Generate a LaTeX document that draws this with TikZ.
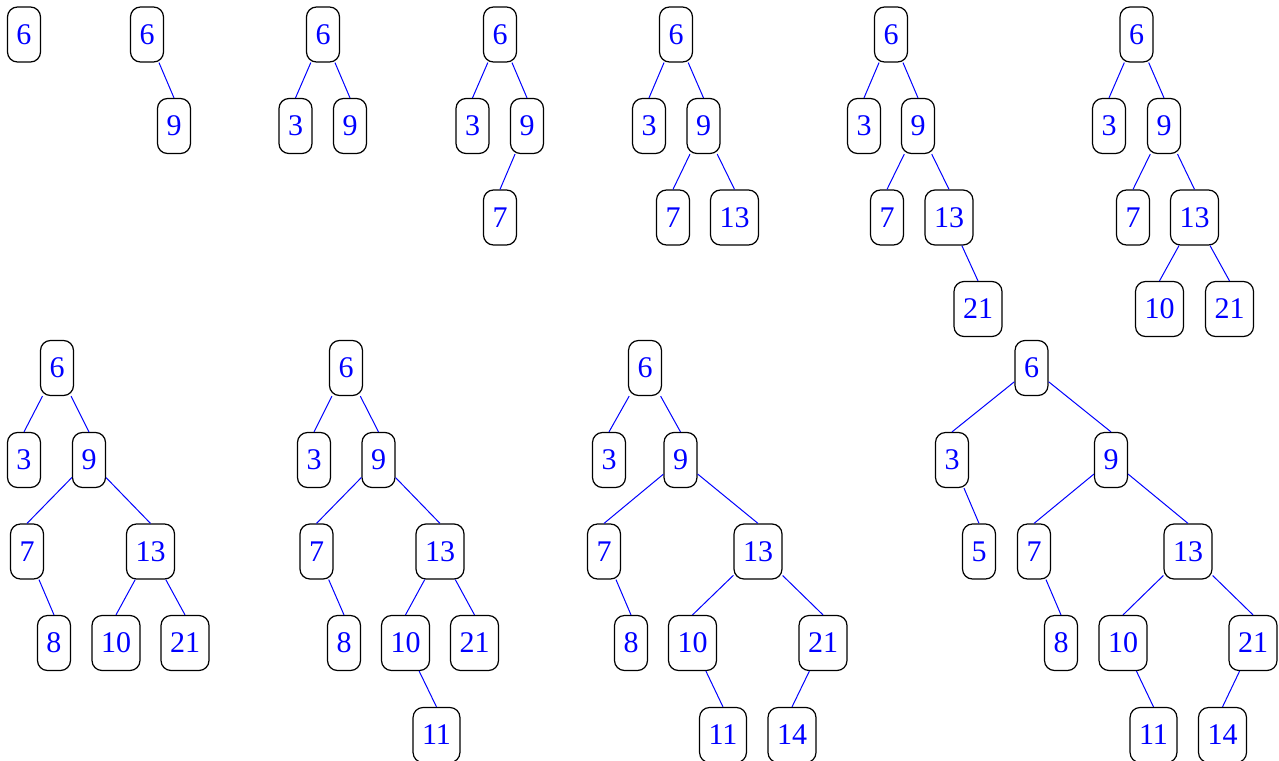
\documentclass[tikz,border=0pt]{standalone}
\usepackage{fontspec}
\setmainfont{Liberation Serif}
\tikzset{
  key/.style={draw, line width=0.6pt, rounded corners=5pt, text=blue,
    minimum height=27.5pt, inner xsep=4.5pt, inner ysep=0pt,
    font=\fontsize{15}{18}\selectfont},
  link/.style={blue, line width=0.5pt}
}
\begin{document}
\begin{tikzpicture}[x=0.5pt,y=-0.5pt]
  \useasboundingbox (0,0) rectangle (1279,760);

  % Tree a: 6
  \node[key] (a6) at (24,34.5) {6};

  % Tree b: insert 9
  \node[key] (b6) at (147,34.5) {6};
  \node[key] (b9) at (174,126) {9};
  \draw[link] (b6) -- (b9.north);

  % Tree c: insert 3
  \node[key] (c6) at (323,34.5) {6};
  \node[key] (c3) at (295.5,126) {3};
  \node[key] (c9) at (350,126) {9};
  \foreach \p/\c in {c6/c3,c6/c9}
    \draw[link] (\p) -- (\c.north);

  % Tree d: insert 7
  \node[key] (d6) at (500,34.5) {6};
  \node[key] (d3) at (472.5,126) {3};
  \node[key] (d9) at (527,126) {9};
  \node[key] (d7) at (500,217.5) {7};
  \foreach \p/\c in {d6/d3,d6/d9,d9/d7}
    \draw[link] (\p) -- (\c.north);

  % Tree e: insert 13
  \node[key] (e6) at (676,34.5) {6};
  \node[key] (e3) at (649,126) {3};
  \node[key] (e9) at (703.5,126) {9};
  \node[key] (e7) at (673,217.5) {7};
  \node[key] (e13) at (734.5,217.5) {13};
  \foreach \p/\c in {e6/e3,e6/e9,e9/e7,e9/e13}
    \draw[link] (\p) -- (\c.north);

  % Tree f: insert 21
  \node[key] (f6) at (891,34.5) {6};
  \node[key] (f3) at (864,126) {3};
  \node[key] (f9) at (918,126) {9};
  \node[key] (f7) at (887,217.5) {7};
  \node[key] (f13) at (949,217.5) {13};
  \node[key] (f21) at (978,309) {21};
  \foreach \p/\c in {f6/f3,f6/f9,f9/f7,f9/f13,f13/f21}
    \draw[link] (\p) -- (\c.north);

  % Tree g: insert 10
  \node[key] (g6) at (1136.5,34.5) {6};
  \node[key] (g3) at (1109,126) {3};
  \node[key] (g9) at (1164,126) {9};
  \node[key] (g7) at (1133,217.5) {7};
  \node[key] (g13) at (1194.5,217.5) {13};
  \node[key] (g10) at (1159.5,309) {10};
  \node[key] (g21) at (1229.5,309) {21};
  \foreach \p/\c in {g6/g3,g6/g9,g9/g7,g9/g13,g13/g10,g13/g21}
    \draw[link] (\p) -- (\c.north);

  % Tree h: insert 8
  \node[key] (h6) at (57,368) {6};
  \node[key] (h3) at (24,460) {3};
  \node[key] (h9) at (89,460) {9};
  \node[key] (h7) at (27,551.5) {7};
  \node[key] (h13) at (150.5,551.5) {13};
  \node[key] (h8) at (54,643) {8};
  \node[key] (h10) at (116,643) {10};
  \node[key] (h21) at (185,643) {21};
  \foreach \p/\c in {h6/h3,h6/h9,h9/h7,h9/h13,h7/h8,h13/h10,h13/h21}
    \draw[link] (\p) -- (\c.north);

  % Tree i: insert 11
  \node[key] (i6) at (346,368) {6};
  \node[key] (i3) at (314,460) {3};
  \node[key] (i9) at (378.5,460) {9};
  \node[key] (i7) at (316.5,551.5) {7};
  \node[key] (i13) at (440,551.5) {13};
  \node[key] (i8) at (344,643) {8};
  \node[key] (i10) at (405.5,643) {10};
  \node[key] (i21) at (474.5,643) {21};
  \node[key] (i11) at (436.5,735) {11};
  \foreach \p/\c in {i6/i3,i6/i9,i9/i7,i9/i13,i7/i8,i13/i10,i13/i21,i10/i11}
    \draw[link] (\p) -- (\c.north);

  % Tree j: insert 14
  \node[key] (j6) at (645,368) {6};
  \node[key] (j3) at (609,460) {3};
  \node[key] (j9) at (680.5,460) {9};
  \node[key] (j7) at (604,551.5) {7};
  \node[key] (j13) at (758,551.5) {13};
  \node[key] (j8) at (631,643) {8};
  \node[key] (j10) at (692.5,643) {10};
  \node[key] (j21) at (823,643) {21};
  \node[key] (j11) at (723,735) {11};
  \node[key] (j14) at (792,735) {14};
  \foreach \p/\c in {j6/j3,j6/j9,j9/j7,j9/j13,j7/j8,j13/j10,j13/j21,j10/j11,j21/j14}
    \draw[link] (\p) -- (\c.north);

  % Tree k: insert 5
  \node[key] (k6) at (1031.5,368) {6};
  \node[key] (k3) at (952,460) {3};
  \node[key] (k9) at (1111,460) {9};
  \node[key] (k5) at (979,551.5) {5};
  \node[key] (k7) at (1034,551.5) {7};
  \node[key] (k13) at (1188,551.5) {13};
  \node[key] (k8) at (1061,643) {8};
  \node[key] (k10) at (1123,643) {10};
  \node[key] (k21) at (1253,643) {21};
  \node[key] (k11) at (1153.5,735) {11};
  \node[key] (k14) at (1222.5,735) {14};
  \foreach \p/\c in {k6/k3,k6/k9,k3/k5,k9/k7,k9/k13,k7/k8,k13/k10,k13/k21,k10/k11,k21/k14}
    \draw[link] (\p) -- (\c.north);
\end{tikzpicture}
\end{document}
